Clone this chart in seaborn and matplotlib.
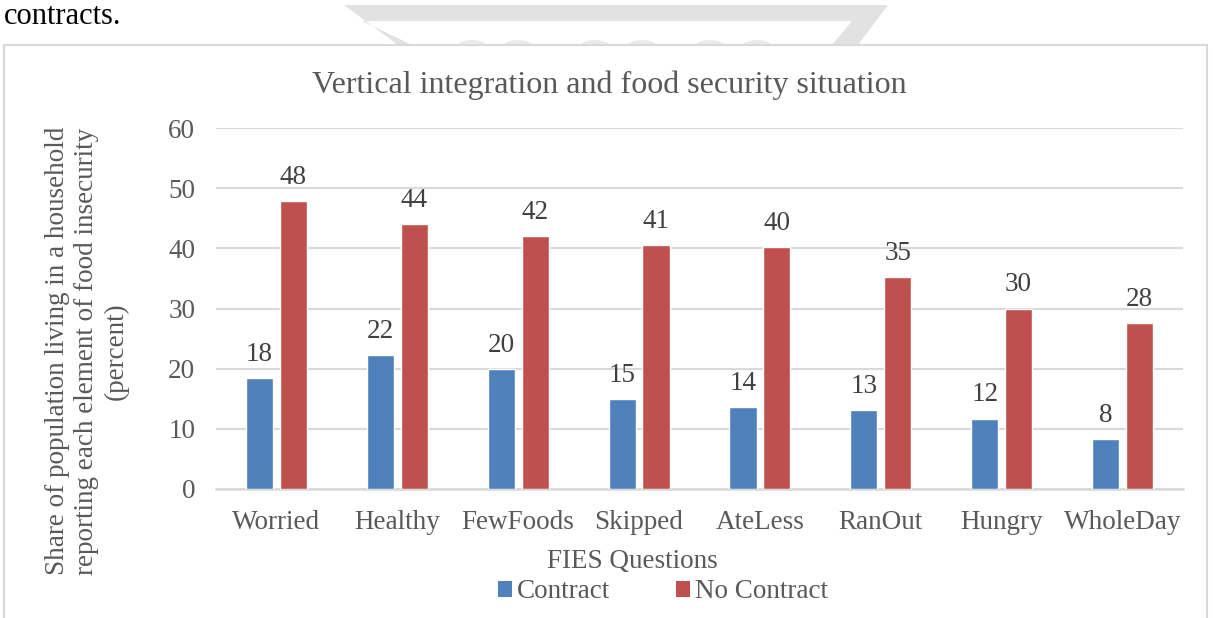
import matplotlib
matplotlib.use("Agg")
import matplotlib.pyplot as plt
from matplotlib.patches import Rectangle, Patch, Polygon, Ellipse
import pandas as pd
import seaborn as sns

# FIES questions and shares (percent) by contract status
questions = ["Worried", "Healthy", "FewFoods", "Skipped", "AteLess", "RanOut", "Hungry", "WholeDay"]
contract = [18.4, 22.3, 19.9, 15.0, 13.6, 13.1, 11.7, 8.3]
no_contract = [47.9, 44.1, 42.1, 40.6, 40.2, 35.3, 30.0, 27.6]
groups = ["Contract", "No Contract"]
y_ticks = [0, 10, 20, 30, 40, 50, 60]

df = pd.DataFrame({
    "Question": questions * 2,
    "Group": [groups[0]] * len(questions) + [groups[1]] * len(questions),
    "Share": contract + no_contract,
})

sns.set_theme(style="white")
plt.rcParams["font.family"] = ["Liberation Serif", "DejaVu Serif"]

palette = {"Contract": "#4F81BD", "No Contract": "#C0504D"}
text_grey = "#595959"
label_grey = "#404040"
grid_grey = "#D9D9D9"
fs = 19.5

W, H = 1213, 618
fig = plt.figure(figsize=(W / 100, H / 100), dpi=100)
fig.patch.set_facecolor("white")


def fx(px):
    return px / W


def fy(py):
    return 1 - py / H


# Faint page watermark above the chart frame
wm_pts = [(344, 5), (888, 5), (858, 45), (832, 45), (852, 21), (362, 21), (412, 45), (398, 45)]
fig.patches.append(Polygon([(fx(x), fy(y)) for x, y in wm_pts], closed=True,
                           transform=fig.transFigure, facecolor="#E2E2E2",
                           edgecolor="none", zorder=-3))
for cx in [472, 518, 595, 642, 710, 757]:
    fig.patches.append(Ellipse((fx(cx), fy(45.5)), 28 / W, 11 / H, transform=fig.transFigure,
                               facecolor="#EBEBEB", edgecolor="none", zorder=-3))

# Chart frame
fig.patches.append(Rectangle((fx(4), -0.05), (1207 - 4) / W, 1.05 - 44.5 / H,
                             transform=fig.transFigure, facecolor="white",
                             edgecolor=grid_grey, linewidth=1.5, zorder=-1))

ax = fig.add_axes([fx(216), fy(489), (1183 - 216) / W, (489 - 128) / H])
sns.barplot(data=df, x="Question", y="Share", hue="Group", order=questions,
            hue_order=groups, palette=palette, width=0.56, gap=0.2,
            saturation=1, errorbar=None, legend=False, ax=ax, zorder=3)

ax.set_xlim(-0.5, len(questions) - 0.5)
ax.set_ylim(0, 60)
ax.set_yticks(y_ticks)
ax.yaxis.grid(True, color=grid_grey, linewidth=1.5, zorder=0)
ax.set_axisbelow(True)
for side in ["left", "right", "top"]:
    ax.spines[side].set_visible(False)
ax.spines["bottom"].set_color(grid_grey)
ax.spines["bottom"].set_linewidth(1.8)
ax.tick_params(axis="both", length=0, colors=text_grey, labelsize=fs)
ax.tick_params(axis="x", pad=15)
ax.tick_params(axis="y", pad=15)
ax.set_xlabel("")
ax.set_ylabel("")

for container in ax.containers:
    ax.bar_label(container, fmt="%.0f", padding=8, fontsize=fs, color=label_grey)

fig.text(fx(609), fy(85), "Vertical integration and food security situation",
         ha="center", va="center", fontsize=23, color=text_grey)
fig.text(fx(632), fy(561), "FIES Questions", ha="center", va="center",
         fontsize=fs, color=text_grey)
fig.text(fx(87), fy(351),
         "Share of population living in a household\n"
         "reporting each element of food insecurity\n(percent)",
         ha="center", va="center", rotation=90, multialignment="center",
         fontsize=fs, color=text_grey, linespacing=1.24)

# Legend below the axis title
handles = [Patch(facecolor=palette[g], edgecolor="none") for g in groups]
fig.legend(handles, groups, loc="center", bbox_to_anchor=(fx(663), fy(592)),
           ncol=2, frameon=False, fontsize=fs, labelcolor=text_grey,
           handlelength=0.52, handleheight=0.52, handletextpad=0.2,
           columnspacing=2.4, borderpad=0, borderaxespad=0)

# Trailing text of the preceding sentence
fig.text(fx(4), fy(17), "contracts.", ha="left", va="center",
         fontsize=22, color="black")

fig.savefig("out.png", dpi=100, facecolor="white")
